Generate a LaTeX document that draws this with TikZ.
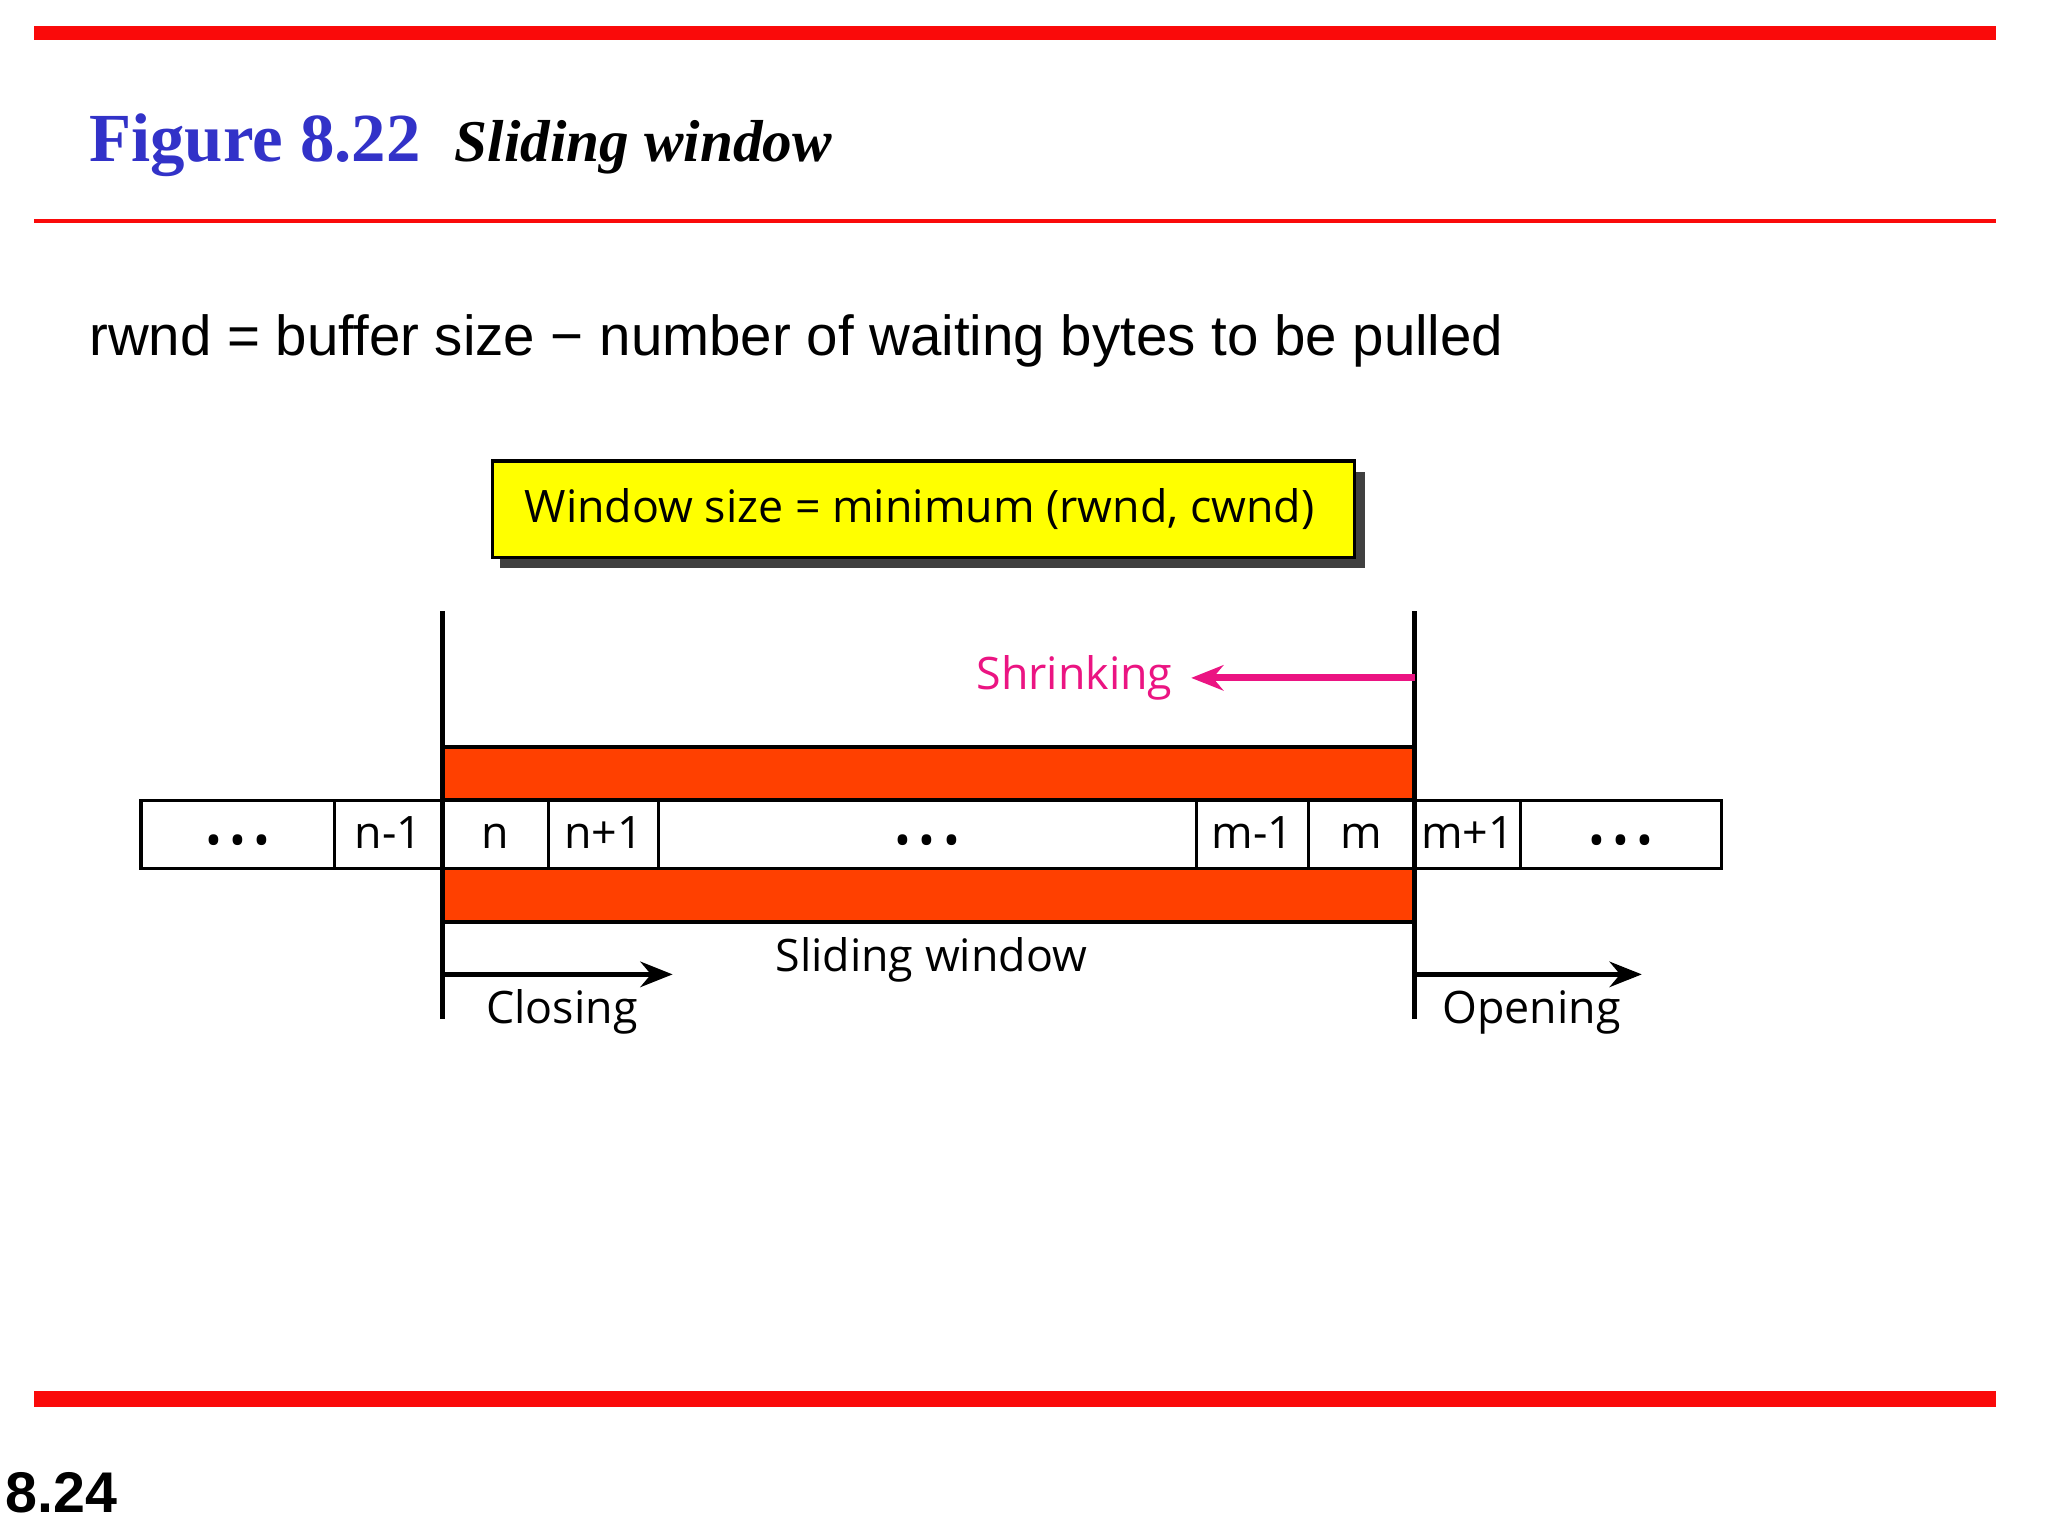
\documentclass[tikz,border=0pt]{standalone}
\usepackage{fontspec}
\setmainfont{Liberation Serif}
\newfontfamily\arialf{Liberation Sans}
\newfontfamily\myr{Open Sans}
\usetikzlibrary{arrows.meta}
\definecolor{redl}{RGB}{250,10,10}
\definecolor{figblue}{RGB}{50,50,200}
\definecolor{orng}{RGB}{255,64,0}
\definecolor{yel}{RGB}{255,255,0}
\definecolor{mag}{RGB}{235,20,130}
\tikzset{cell/.style={draw,line width=1.5pt,fill=white},
 lbl/.style={font=\myr\fontsize{19.5}{23}\selectfont,inner sep=0pt},
 arr/.style={line width=2pt,-{Stealth[length=14pt,width=11pt]}}}
\begin{document}
\begin{tikzpicture}[x=0.02cm,y=-0.02cm]
\useasboundingbox[fill=white] (0,0) rectangle (1568,1176);
\fill[redl] (26,20) rectangle (1528,31);
\fill[redl] (26,168) rectangle (1528,171);
\fill[redl] (26,1065) rectangle (1528,1077);
\node[anchor=base west,inner sep=0pt,text=figblue,font=\bfseries\fontsize{30}{34}\selectfont] (fig) at (68,124) {Figure 8.22};
\node[anchor=base west,inner sep=0pt,font=\bfseries\itshape\fontsize{25.8}{28}\selectfont] (ttl) at (348,124) {Sliding window};
\node[anchor=base west,inner sep=0pt,font=\arialf\fontsize{24.6}{28}\selectfont] (eq) at (68,272) {rwnd = buffer size − number of waiting bytes to be pulled};
\fill[black!75] (383,361) rectangle (1045,435);
\draw[line width=1.5pt,fill=yel] (377,353) rectangle (1037,427);
\node[lbl] (wst) at (704,390) {Window size = minimum (rwnd, cwnd)};
\fill[orng,draw=black,line width=1.5pt] (339,572) rectangle (1083,612);
\fill[orng,draw=black,line width=1.5pt] (339,665) rectangle (1083,706);
\foreach \a/\b/\t in {108/256/{\raisebox{-0.3ex}{\textbullet\,\textbullet\,\textbullet}},256/339/n-1,339/420/n,420/504/n+1,504/916/{\raisebox{-0.3ex}{\textbullet\,\textbullet\,\textbullet}},916/1002/m-1,1002/1083/m,1083/1164/m+1,1164/1318/{\raisebox{-0.3ex}{\textbullet\,\textbullet\,\textbullet}}}{
 \draw[cell] (\a,613) rectangle (\b,665);
 \node[lbl,anchor=base] at ({(\a+\b)/2},650) {\t};}
\coordinate (la) at (339,468); \coordinate (lb) at (339,780);
\coordinate (ra) at (1083,468); \coordinate (rb) at (1083,780);
\draw[line width=2pt] (la) -- (lb);
\draw[line width=2pt] (ra) -- (rb);
\coordinate (s0) at (1083,519); \coordinate (s1) at (912,519);
\draw[arr,mag,line width=3pt] (s0) -- (s1);
\node[lbl,text=mag,anchor=east] (shr) at (898,519) {Shrinking};
\coordinate (c0) at (339,746); \coordinate (c1) at (515,746);
\draw[arr,line width=2.5pt] (c0) -- (c1);
\coordinate (o0) at (1083,746); \coordinate (o1) at (1257,746);
\draw[arr,line width=2.5pt] (o0) -- (o1);
\node[lbl] (sw) at (713,735) {Sliding window};
\node[lbl,anchor=west] (cl) at (372,775) {Closing};
\node[lbl,anchor=west] (op) at (1104,775) {Opening};
\node[anchor=base west,inner sep=0pt,font=\arialf\bfseries\fontsize{25}{28}\selectfont] (pg) at (4,1158) {8.24};
\end{tikzpicture}
\end{document}
